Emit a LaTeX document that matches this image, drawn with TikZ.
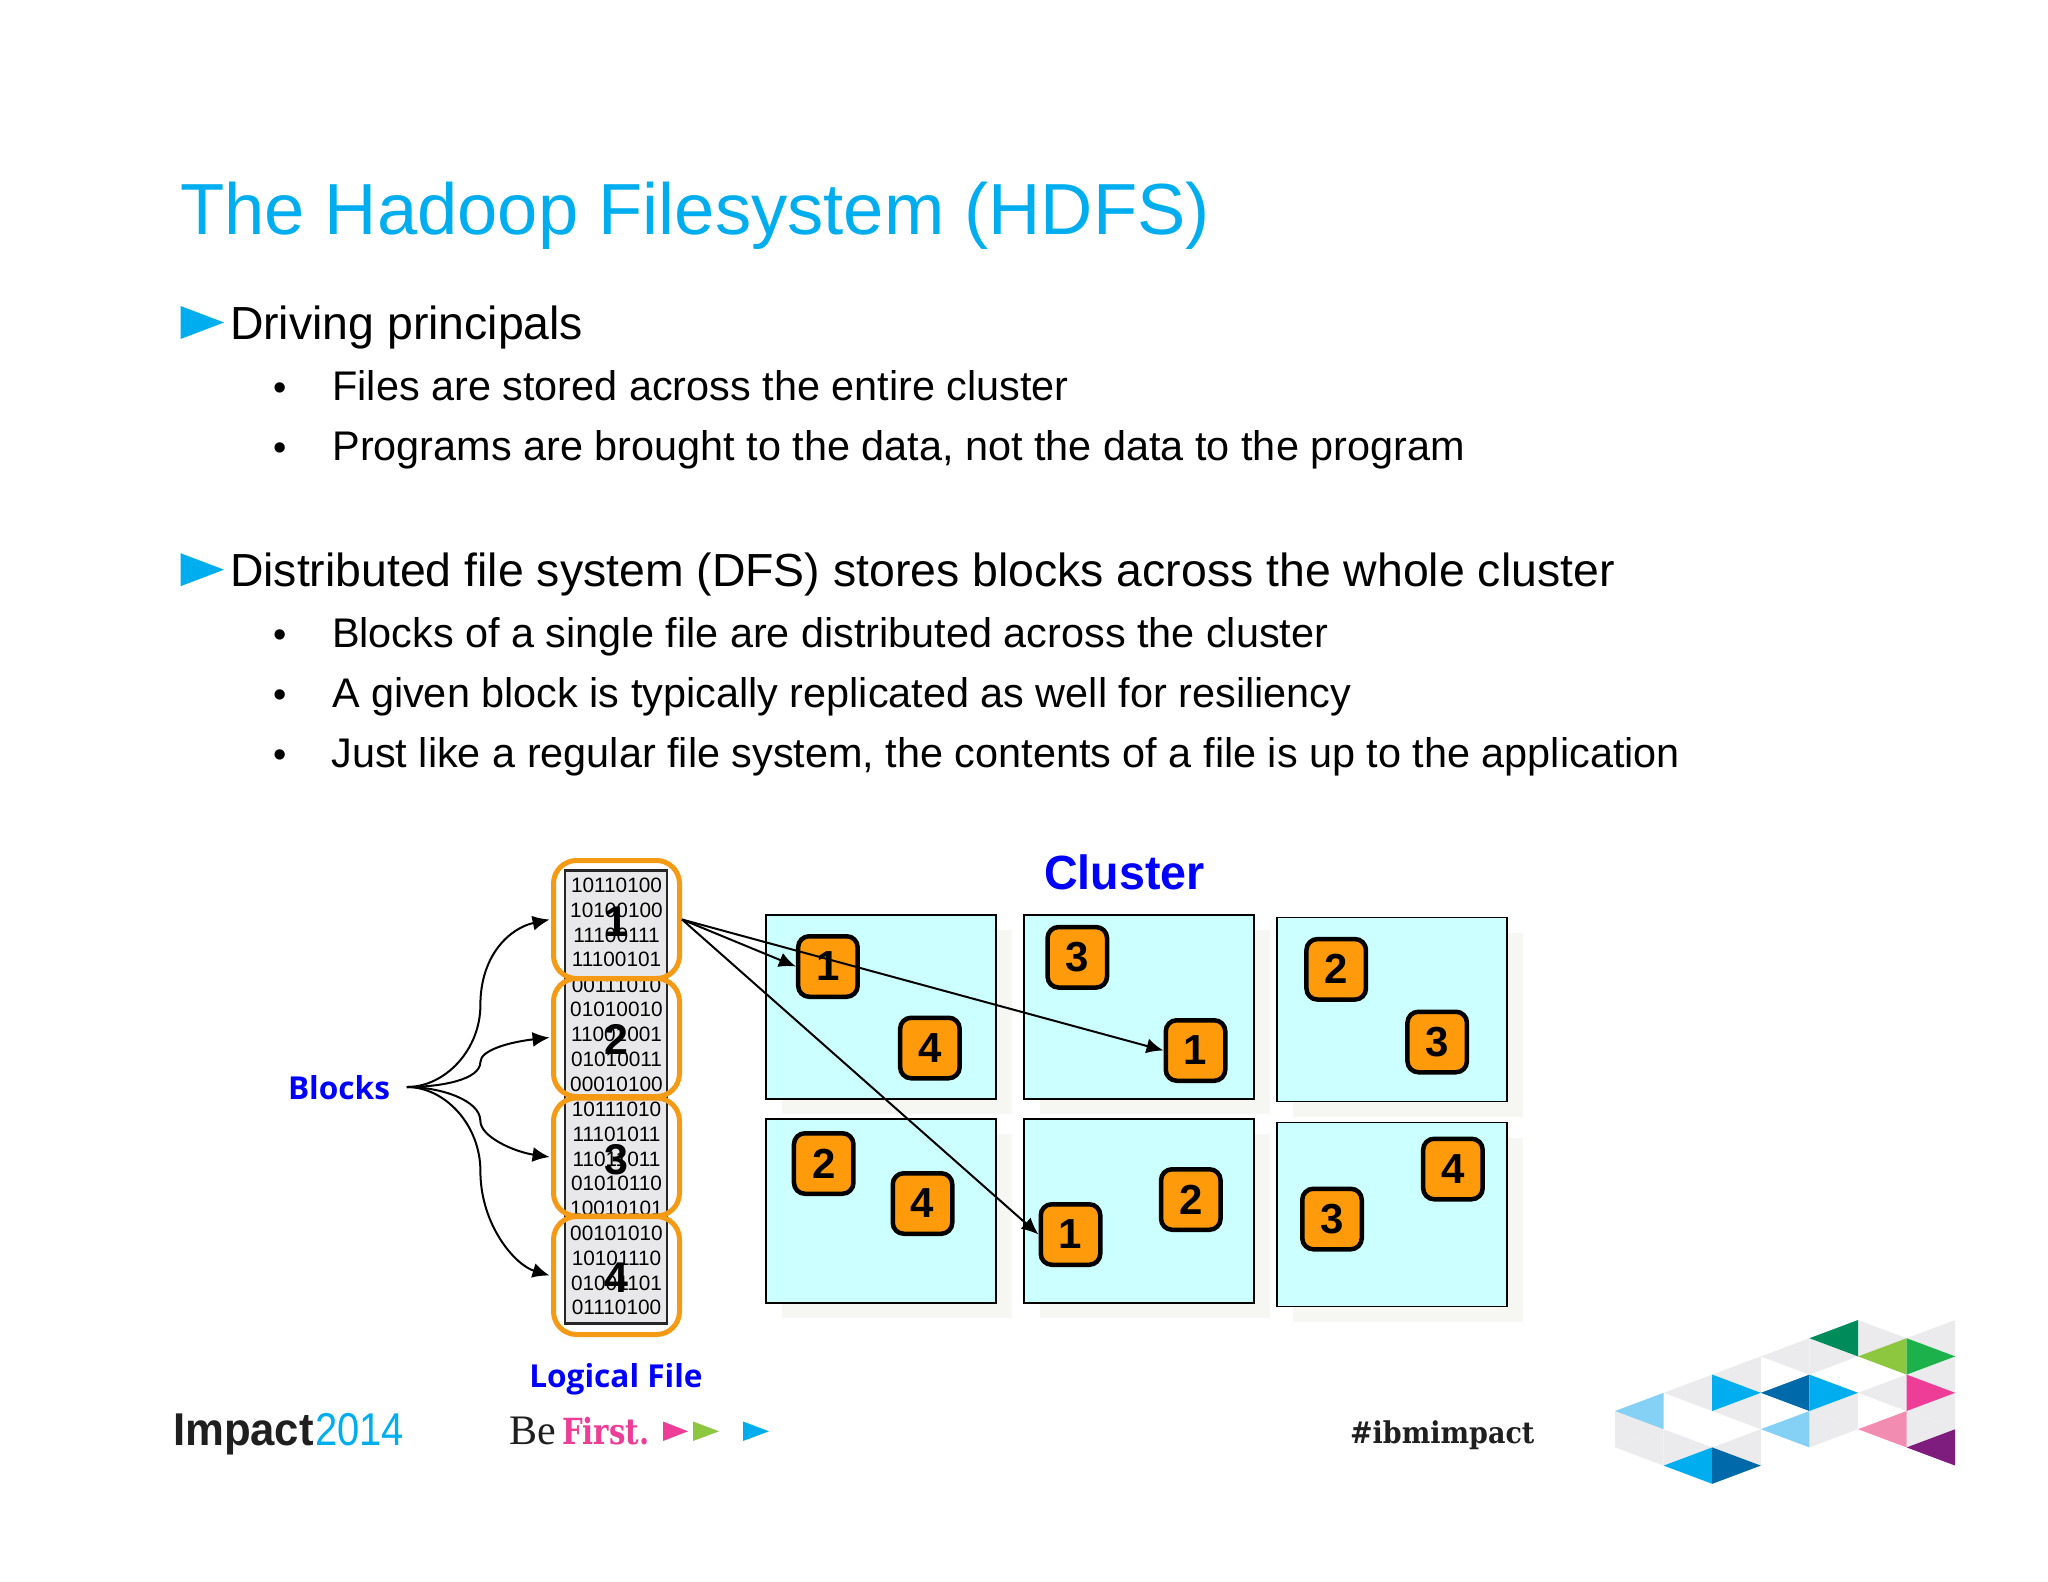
\documentclass[tikz,border=0pt]{standalone}
\usepackage{fontspec}
\setmainfont{Liberation Sans}
\newfontfamily\labelfont{Open Sans}
\newfontfamily\slabfont{DejaVu Serif Condensed}
\newfontfamily\befont{Liberation Serif}
\usetikzlibrary{arrows.meta}
\definecolor{ibmcyan}{HTML}{00AEEF}
\definecolor{ibmblue}{HTML}{0069AA}
\definecolor{ltblue}{HTML}{85D0F5}
\definecolor{hexgray}{HTML}{EBEBED}
\definecolor{ibmpink}{HTML}{EE3D96}
\definecolor{ltpink}{HTML}{F28CB0}
\definecolor{ibmgreen}{HTML}{8DC63F}
\definecolor{midgreen}{HTML}{1DB14B}
\definecolor{dkgreen}{HTML}{008C5A}
\definecolor{ibmpurple}{HTML}{7F1D7F}
\definecolor{blockorange}{HTML}{F59A14}
\definecolor{chiporange}{HTML}{FF9A0A}
\definecolor{cellfill}{HTML}{CCFFFF}
\definecolor{shadowfill}{HTML}{F6F6F2}
\definecolor{filegray}{HTML}{E8E8EA}
\definecolor{pureblue}{HTML}{0000FF}
\tikzset{
  txt/.style={anchor=base west,inner sep=0pt,outer sep=0pt},
  titletext/.style={txt,text=ibmcyan,font=\fontsize{36.2}{40}\selectfont},
  leveltwo/.style={txt,font=\fontsize{23.2}{26}\selectfont},
  levelthree/.style={txt,font=\fontsize{20.7}{24}\selectfont},
  bulletmark/.style={anchor=base,inner sep=0pt,font=\fontsize{19}{24}\selectfont},
  pointer/.style={fill=ibmcyan,draw=none},
  cell/.style={draw=black,line width=0.6pt,fill=cellfill},
  cellshadow/.style={fill=shadowfill,draw=none},
  chip/.style={draw=black,line width=2.25pt,fill=chiporange,rounded corners=5.5pt,
    minimum width=29.75pt,minimum height=30.25pt,inner sep=0pt,
    font=\fontsize{21}{21}\selectfont\bfseries},
  blockbox/.style={draw=blockorange,line width=2.5pt,rounded corners=11.5pt,
    minimum width=63pt,minimum height=59pt,inner sep=0pt,
    font=\fontsize{21.5}{21.5}\selectfont\bfseries},
  bits/.style={inner sep=0pt,font=\fontsize{10.4}{12}\selectfont},
  bluelabel/.style={inner sep=0pt,text=pureblue,font=\labelfont\bfseries\fontsize{15.8}{18}\selectfont},
  conn/.style={draw=black,line width=1pt,-{Latex[length=8.5pt,width=7.5pt]}}
}
\newcommand{\tri}[7]{\fill[#1] ({1615+48.6*#2},{1320+18.2*#3}) -- ({1615+48.6*#4},{1320+18.2*#5}) -- ({1615+48.6*#6},{1320+18.2*#7}) -- cycle;}
\newcommand{\lowered}[1]{\raisebox{-1pt}[\height][0pt]{#1}}
\begin{document}
\begin{tikzpicture}[x=0.5pt,y=-0.5pt]
\useasboundingbox (0,0) rectangle (2048,1582);
% heading and text
\node[titletext] (title) at (180,235) {The Hadoop Filesystem (HDFS)};
\fill[pointer] (180.6,306) -- (224,322.5) -- (180.6,339) -- cycle;
\node[leveltwo] (t1) at (230,339.5) {Driving principals};
\node[bulletmark] (b1m) at (280.5,401) {•};
\node[levelthree] (t2) at (332.5,401) {Files are stored across the entire cluster};
\node[bulletmark] (b2m) at (280.5,461) {•};
\node[levelthree] (t3) at (332.5,461) {Programs are brought to the data, not the data to the program};
\fill[pointer] (180.6,553.2) -- (224,569.7) -- (180.6,586.2) -- cycle;
\node[leveltwo] (t4) at (230,587) {Distributed file system (DFS) stores blocks across the whole cluster};
\node[bulletmark] (b3m) at (280.5,647.5) {•};
\node[levelthree] (t5) at (332,647.5) {Blocks of a single file are distributed across the cluster};
\node[bulletmark] (b4m) at (280.5,707) {•};
\node[levelthree] (t6) at (332,707) {A given block is typically replicated as well for resiliency};
\node[bulletmark] (b5m) at (280.5,767) {•};
\node[levelthree] (t7) at (331.5,767) {Just like a regular file system, the contents of a file is up to the application};
% cluster cells
\foreach \x/\y in {766/915,1024/915,1277/917.5,766/1119,1024/1119,1277/1122.5}{
  \fill[cellshadow] (\x+16,\y+15) rectangle (\x+246,\y+199);
}
\foreach \x/\y in {766/915,1024/915,1277/917.5,766/1119,1024/1119,1277/1122.5}{
  \filldraw[cell] (\x,\y) rectangle (\x+230,\y+184);
}
\node[chip] (ca1) at (827.9,966.5) {1};
\node[chip] (ca4) at (929.9,1048) {4};
\node[chip] (cb3) at (1077.3,957.3) {3};
\node[chip] (cb1) at (1195.5,1050.5) {1};
\node[chip] (cc2) at (1336.2,969.3) {2};
\node[chip] (cc3) at (1437.2,1042) {3};
\node[chip] (cd2) at (823.7,1163.5) {2};
\node[chip] (cd4) at (922.5,1203.5) {4};
\node[chip] (ce1) at (1070.5,1234.5) {1};
\node[chip] (ce2) at (1190.8,1199.5) {2};
\node[chip] (cf3) at (1332,1219) {3};
\node[chip] (cf4) at (1452.9,1169) {4};
\node[inner sep=0pt,text=pureblue,font=\fontsize{24}{26}\selectfont\bfseries] (cluster) at (1124.5,872) {\scalebox{0.97}[1]{Cluster}};
% logical file
\filldraw[draw=black!85,fill=filegray,line width=1.3pt] (565,870.4) rectangle (667,1323.6);
\foreach \yy/\tt in {885.4/10110100,910.4/10100100,935.4/11100111,959.6/11100101,
  985.4/00111010,1009.6/01010010,1034.6/11001001,1059.6/01010011,1083.9/00010100,
  1109.3/10111010,1134.3/11101011,1158.9/11011011,1183.6/01010110,1208.6/10010101,
  1233.6/00101010,1258.6/10101110,1282.9/01001101,1307.5/01110100}{
  \node[bits] at (616.5,\yy) {\tt};
}
\node[blockbox] (b1) at (616.5,919.5) {\lowered{1}};
\node[blockbox] (b2) at (616.5,1037.5) {\lowered{2}};
\node[blockbox] (b3) at (616.5,1157) {\lowered{3}};
\node[blockbox] (b4) at (616.5,1275.5) {\lowered{4}};
\node[bluelabel] (logical) at (616,1379) {Logical File};
\node[bluelabel] (blocks) at (339,1087.5) {Blocks};
% connectors
\coordinate (tail) at (406.9,1087);
\coordinate (m1) at (480.4,1005);
\coordinate (m2) at (480.4,1062);
\coordinate (m3) at (480.4,1121);
\coordinate (m4) at (480.4,1171);
\draw[conn] (tail) .. controls (445,1087) and (480.4,1050) .. (m1) .. controls (480.4,955) and (510,928) .. ([xshift=-0.7pt]b1.west);
\draw[conn] (tail) .. controls (440,1087) and (480.4,1080) .. (m2) .. controls (480.4,1050) and (510,1042) .. ([xshift=-0.7pt]b2.west);
\draw[conn] (tail) .. controls (440,1087) and (480.4,1100) .. (m3) .. controls (480.4,1137) and (515,1152) .. ([xshift=-0.7pt]b3.west);
\draw[conn] (tail) .. controls (445,1087) and (480.4,1125) .. (m4) .. controls (480.4,1225) and (515,1265) .. ([xshift=-0.7pt]b4.west);
\draw[conn] (b1.east) -- (ca1.west);
\draw[conn] (b1.east) -- (cb1.west);
\draw[conn] (b1.east) -- (ce1.west);
% footer
\node[txt,font=\fontsize{23}{26}\selectfont\bfseries,text=black!88] (impact) at (173,1445) {\scalebox{0.95}[1]{Impact}};
\node[txt,font=\fontsize{23}{26}\selectfont,text=ibmcyan] (year) at (315,1445) {\scalebox{0.87}[1]{2014}};
\node[txt,font=\befont\fontsize{21}{24}\selectfont,text=black!88] (be) at (509,1444) {Be};
\node[txt,font=\slabfont\bfseries\fontsize{18}{22}\selectfont,text=ibmpink] (first) at (562,1444) {\scalebox{0.9}[1]{First.}};
\fill[ibmpink] (663,1421.5) -- (688,1431.3) -- (663,1441) -- cycle;
\fill[ibmgreen] (693,1421.5) -- (719,1431.3) -- (693,1441) -- cycle;
\fill[ibmcyan] (743,1421.5) -- (769,1431.3) -- (743,1441) -- cycle;
\node[txt,font=\slabfont\bfseries\fontsize{15}{18}\selectfont,text=black!88] (tag) at (1350,1443) {\#ibmimpact};
% logo
\tri{hexgray}{5}{0}{5}{2}{6}{1}
\tri{hexgray}{7}{0}{7}{2}{6}{1}
\tri{hexgray}{4}{1}{4}{3}{3}{2}
\tri{hexgray}{4}{1}{4}{3}{5}{2}
\tri{hexgray}{3}{2}{3}{4}{2}{3}
\tri{hexgray}{2}{3}{2}{5}{1}{4}
\tri{hexgray}{3}{4}{3}{6}{2}{5}
\tri{hexgray}{5}{4}{5}{6}{4}{5}
\tri{hexgray}{4}{5}{4}{7}{5}{6}
\tri{hexgray}{6}{3}{6}{5}{5}{4}
\tri{hexgray}{7}{2}{7}{4}{6}{3}
\tri{hexgray}{7}{4}{7}{6}{6}{5}
\tri{hexgray}{6}{5}{6}{7}{7}{6}
\tri{hexgray}{0}{5}{0}{7}{1}{6}
\tri{hexgray}{0}{7}{1}{6}{1}{8}
\tri{hexgray}{1}{6}{1}{8}{2}{7}
\tri{hexgray}{3}{6}{3}{8}{2}{7}
\tri{dkgreen}{5}{0}{5}{2}{4}{1}
\tri{ibmgreen}{6}{1}{6}{3}{5}{2}
\tri{midgreen}{6}{1}{6}{3}{7}{2}
\tri{ibmcyan}{2}{3}{2}{5}{3}{4}
\tri{ibmblue}{4}{3}{4}{5}{3}{4}
\tri{ibmcyan}{4}{3}{4}{5}{5}{4}
\tri{ibmpink}{6}{3}{6}{5}{7}{4}
\tri{ltblue}{1}{4}{1}{6}{0}{5}
\tri{ltblue}{4}{5}{4}{7}{3}{6}
\tri{ltpink}{6}{5}{6}{7}{5}{6}
\tri{ibmpurple}{7}{6}{7}{8}{6}{7}
\tri{ibmcyan}{2}{7}{2}{9}{1}{8}
\tri{ibmblue}{2}{7}{2}{9}{3}{8}
\end{tikzpicture}
\end{document}
